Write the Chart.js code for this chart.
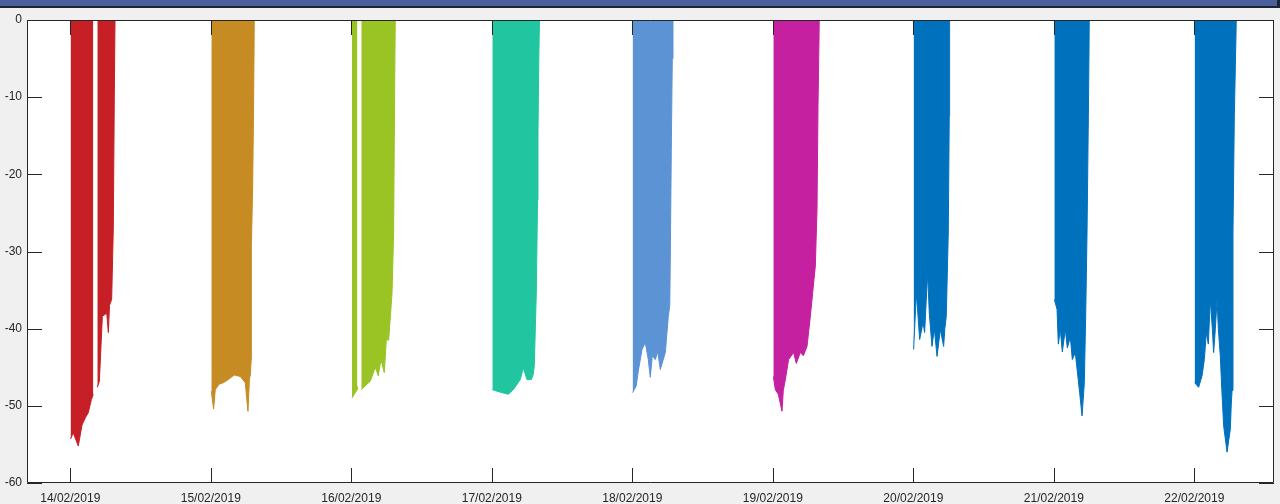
<!DOCTYPE html>
<html>
<head>
<meta charset="utf-8">
<script src="https://cdn.jsdelivr.net/npm/chart.js@4"></script>
<style>
  html, body { margin: 0; padding: 0; background: #f0f0f0; width: 1280px; height: 504px; overflow: hidden; }
  #bar { position: absolute; left: 0; top: 0; width: 1277px; height: 6px; background: #4b5f9c; border-bottom: 2px solid #1c2438; border-right: 3px solid #1c2438; z-index: 2; }
  #wrap { position: absolute; left: 0; top: 0; width: 1280px; height: 504px; }
</style>
</head>
<body>
<div id="bar"></div>
<div id="wrap"><canvas id="c" width="1280" height="504"></canvas></div>
<script>
// ---- data ----
const dayTicks = [14, 15, 16, 17, 18, 19, 20, 21, 22];
const tickLabels = ['14/02/2019','15/02/2019','16/02/2019','17/02/2019','18/02/2019','19/02/2019','20/02/2019','21/02/2019','22/02/2019'];
const yTicks = [0, -10, -20, -30, -40, -50, -60];

// hours after midnight of each day, lower envelope value (null = gap)
const hours14 = [0.05, 0.5, 1.37, 2.0, 2.6, 3.07, 3.6, 3.93, 4.2, 4.62, 4.97, 5.48, 6.23, 6.5, 6.7, 7.07, 7.35, 7.52, 7.64];
const depth14 = [-54.3, -53.5, -55.2, -52.5, -51.5, -50.9, -49.2, -48.5, null, -47.6, -46.8, -38.4, -38.0, -40.5, -37.0, -36.2, -27.0, -10.0, 0];

const hours15 = [0.09, 0.48, 0.77, 1.4, 2.14, 2.99, 4.0, 5.04, 5.89, 6.35, 6.6, 6.75, 6.9, 6.93, 7.15, 7.3, 7.43];
const depth15 = [-48.1, -50.4, -47.9, -47.2, -47.0, -46.6, -46.0, -46.2, -47.0, -50.7, -46.5, -46.0, -44.0, -29.4, -21.6, -12.0, 0];

const hours16 = [0.11, 0.5, 1.0, 1.05, 1.4, 1.71, 2.39, 3.25, 4.1, 4.61, 5.07, 5.64, 5.98, 6.38, 6.96, 7.23, 7.45, 7.52];
const depth16 = [-49.0, -48.5, -47.9, -47.5, null, -47.9, -47.4, -46.8, -45.0, -46.1, -44.0, -45.7, -41.4, -41.5, -35.4, -27.6, -5.0, 0];

const hours17 = [0.09, 0.89, 1.79, 2.82, 3.67, 4.87, 5.38, 6.01, 6.75, 7.05, 7.26, 7.6, 7.82, 7.89, 8.05, 8.16];
const depth17 = [-47.9, -48.1, -48.3, -48.5, -47.9, -46.6, -45.1, -46.6, -46.6, -46.0, -44.8, -35.4, -23.3, -14.6, -4.0, 0];

const hours18 = [0.05, 0.68, 1.02, 1.66, 2.22, 2.73, 3.07, 3.42, 3.93, 4.36, 4.78, 5.64, 6.15, 6.4, 6.5, 6.66, 6.83, 6.95];
const depth18 = [-48.3, -47.4, -45.5, -42.7, -41.8, -44.0, -46.3, -43.5, -44.0, -43.0, -45.3, -43.1, -38.4, -37.0, -30.0, -17.0, -5.0, 0];

const hours19 = [0.09, 0.43, 0.94, 1.57, 1.79, 2.14, 2.7, 3.55, 4.01, 4.7, 5.21, 5.84, 6.41, 6.8, 7.26, 7.55, 7.72, 7.94];
const depth19 = [-46.2, -47.9, -48.5, -50.7, -48.0, -46.6, -44.0, -43.1, -44.5, -43.1, -43.5, -42.3, -38.4, -35.4, -31.9, -24.6, -11.2, 0];

const hours20 = [0.05, 0.51, 0.77, 1.08, 1.66, 1.93, 2.44, 2.73, 3.19, 3.59, 4.05, 4.61, 5.18, 5.38, 5.63, 5.97, 6.14, 6.2];
const depth20 = [-42.7, -35.4, -38.0, -41.4, -39.2, -40.5, -32.8, -38.0, -42.3, -40.0, -43.6, -40.1, -42.3, -40.0, -38.4, -27.6, -12.5, 0];

const hours21 = [0.09, 0.55, 0.77, 1.11, 1.45, 1.96, 2.31, 2.82, 3.16, 3.67, 4.01, 4.41, 4.82, 5.21, 5.45, 5.67, 5.9, 6.06];
const depth21 = [-36.2, -37.5, -42.0, -40.1, -43.0, -40.1, -42.5, -41.1, -44.0, -43.1, -45.5, -48.3, -51.3, -47.0, -38.0, -27.6, -12.5, 0];

const hours22 = [0.05, 0.73, 1.32, 1.71, 2.05, 2.39, 2.73, 3.07, 3.3, 3.59, 3.88, 4.1, 4.44, 4.7, 5.01, 5.59, 6.15, 6.3, 6.44, 6.6, 6.83, 7.17];
const depth22 = [-47.0, -47.6, -46.1, -44.0, -40.5, -42.0, -36.2, -40.0, -43.1, -40.0, -36.2, -40.0, -43.6, -48.0, -52.6, -56.0, -53.0, -50.0, -48.0, -27.6, -12.5, 0];

const dayColors = ['#c62026', '#c68b23', '#99c424', '#21c6a0', '#5b93d5', '#c4209f', '#0072bd', '#0072bd', '#0072bd'];

// ---- build chart ----
const allHours = [hours14, hours15, hours16, hours17, hours18, hours19, hours20, hours21, hours22];
const allDepth = [depth14, depth15, depth16, depth17, depth18, depth19, depth20, depth21, depth22];

const datasets = dayTicks.map((day, k) => ({
  data: allHours[k].map((h, i) => ({ x: day + h / 24, y: allDepth[k][i] })),
  borderColor: dayColors[k],
  backgroundColor: dayColors[k],
  borderWidth: 1,
  pointRadius: 0,
  tension: 0,
  spanGaps: false,
  fill: 'origin'
}));

const AXC = '#262626';
const boxPlugin = {
  id: 'box',
  beforeDatasetsDraw(chart) {
    const { ctx, chartArea: a } = chart;
    ctx.save();
    ctx.fillStyle = '#ffffff';
    ctx.fillRect(a.left, a.top, a.right - a.left, a.bottom - a.top);
    ctx.restore();
  },
  afterDatasetsDraw(chart) {
    const { ctx, chartArea: a, scales } = chart;
    ctx.save();
    ctx.strokeStyle = AXC;
    ctx.lineWidth = 1;
    ctx.beginPath();
    ctx.rect(Math.round(a.left) + 0.5, Math.round(a.top) + 0.5, Math.round(a.right - a.left) - 1, Math.round(a.bottom - a.top) - 1);
    const L = 15;
    dayTicks.forEach(v => {
      const px = Math.round(scales.x.getPixelForValue(v)) + 0.5;
      ctx.moveTo(px, a.bottom); ctx.lineTo(px, a.bottom - L);
      ctx.moveTo(px, a.top); ctx.lineTo(px, a.top + L);
    });
    yTicks.forEach(v => {
      const py = Math.round(scales.y.getPixelForValue(v)) + 0.5;
      ctx.moveTo(a.left, py); ctx.lineTo(a.left + L, py);
      ctx.moveTo(a.right, py); ctx.lineTo(a.right - L, py);
    });
    ctx.stroke();
    ctx.restore();
  }
};

Chart.defaults.font.family = '"Liberation Sans", Arial, Helvetica, sans-serif';
Chart.defaults.font.size = 12;
Chart.defaults.color = AXC;

new Chart(document.getElementById('c'), {
  type: 'line',
  data: { datasets },
  options: {
    responsive: false,
    devicePixelRatio: 1,
    animation: false,
    events: [],
    layout: { padding: { top: 20, right: 6, left: 0, bottom: 0 } },
    plugins: { legend: { display: false }, tooltip: { enabled: false }, title: { display: false } },
    scales: {
      x: {
        type: 'linear',
        min: 13.692,
        max: 22.567,
        grid: { display: false, drawTicks: false },
        border: { display: false },
        afterBuildTicks: (s) => { s.ticks = dayTicks.map(v => ({ value: v })); },
        afterFit: (s) => { s.height = 21; },
        ticks: {
          padding: 8,
          maxRotation: 0,
          autoSkip: false,
          callback: (v) => tickLabels[dayTicks.indexOf(v)]
        }
      },
      y: {
        type: 'linear',
        min: -60,
        max: 0,
        grid: { display: false, drawTicks: false },
        border: { display: false },
        afterBuildTicks: (s) => { s.ticks = yTicks.map(v => ({ value: v })); },
        afterFit: (s) => { s.width = 27; },
        ticks: { padding: 5, callback: (v) => String(v) }
      }
    }
  },
  plugins: [boxPlugin]
});
</script>
</body>
</html>
